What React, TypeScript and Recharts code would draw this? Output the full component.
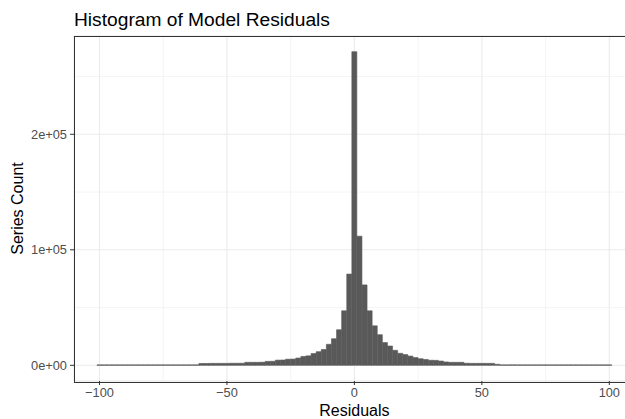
import React from "react";
import {
  BarChart,
  Bar,
  XAxis,
  YAxis,
  CartesianGrid,
} from "recharts";

// bin centres (binwidth 2) and counts
const binCentres = [
  -100, -98, -96, -94, -92, -90, -88, -86, -84, -82, -80, -78, -76, -74, -72, -70, -68, -66, -64, -62,
  -60, -58, -56, -54, -52, -50, -48, -46, -44, -42, -40, -38, -36, -34, -32, -30, -28, -26, -24, -22,
  -20, -18, -16, -14, -12, -10, -8, -6, -4, -2, 0, 2, 4, 6, 8, 10, 12, 14, 16, 18,
  20, 22, 24, 26, 28, 30, 32, 34, 36, 38, 40, 42, 44, 46, 48, 50, 52, 54, 56, 58,
  60, 62, 64, 66, 68, 70, 72, 74, 76, 78, 80, 82, 84, 86, 88, 90, 92, 94, 96, 98, 100,
];

const counts = [
  400, 400, 400, 400, 400, 400, 400, 400, 400, 400, 400, 400, 400, 400, 400, 400, 400, 400, 400, 400,
  1600, 1600, 1700, 1700, 1700, 1700, 1800, 1800, 1800, 2600, 2600, 2600, 2700, 3400, 3500, 4500, 4600, 5300, 5400, 6300,
  7700, 8200, 10200, 11800, 13700, 18200, 23000, 30800, 47200, 79000, 271500, 111800, 69600, 47200, 34200, 26500, 19700, 16700, 13000, 10400,
  9300, 8000, 6700, 5700, 5100, 4400, 4300, 3700, 2900, 2600, 2600, 2600, 1800, 1700, 1700, 1700, 1700, 1700, 900, 400,
  400, 400, 400, 400, 400, 400, 400, 400, 400, 400, 400, 400, 400, 400, 400, 400, 400, 400, 400, 400, 400,
];

const xTicks = [-100, -50, 0, 50, 100];
const xMinor = [-75, -25, 25, 75];
const yTicks = [0, 100000, 200000];
const yTickLabels = ["0e+00", "1e+05", "2e+05"];
const yMinor = [50000, 150000, 250000];
const xDomain = [-110, 110];
const yDomain = [-13575, 285075];

const data = binCentres.map((c, i) => ({ x: c, count: counts[i] }));

const font = '"Liberation Sans", Arial, Helvetica, sans-serif';

export default function App() {
  return (
    <div
      style={{
        position: "absolute",
        left: 0,
        top: 0,
        width: 625,
        height: 419,
        overflow: "hidden",
        background: "#fff",
        fontFamily: font,
      }}
    >
      <BarChart
        width={660}
        height={419}
        data={data}
        margin={{ top: 36, right: 25.2, left: 0, bottom: 0 }}
        barCategoryGap={0}
        barGap={0}
      >
        {/* minor grid, from hidden axes */}
        <CartesianGrid
          xAxisId="minor"
          yAxisId="minor"
          stroke="#EBEBEB"
          strokeWidth={0.55}
        />
        <CartesianGrid stroke="#EBEBEB" strokeWidth={1.1} />
        <XAxis
          xAxisId="minor"
          dataKey="x"
          type="number"
          domain={xDomain}
          ticks={xMinor}
          allowDataOverflow
          hide
        />
        <YAxis
          yAxisId="minor"
          type="number"
          domain={yDomain}
          ticks={yMinor}
          allowDataOverflow
          hide
        />
        <XAxis
          dataKey="x"
          type="number"
          domain={xDomain}
          ticks={xTicks}
          allowDataOverflow
          height={38}
          axisLine={false}
          tickSize={4}
          tickMargin={3}
          tickLine={{ stroke: "#333333", strokeWidth: 1 }}
          tick={{ fontSize: 12.8, fill: "#4D4D4D", fontFamily: font }}
          tickFormatter={(v) => (v < 0 ? `\u2212${Math.abs(v)}` : `${v}`)}
        />
        <YAxis
          type="number"
          domain={yDomain}
          ticks={yTicks}
          allowDataOverflow
          width={74}
          axisLine={false}
          tickSize={4}
          tickMargin={3}
          tickLine={{ stroke: "#333333", strokeWidth: 1 }}
          tick={{ fontSize: 12.8, fill: "#4D4D4D", fontFamily: font }}
          tickFormatter={(v) => yTickLabels[yTicks.indexOf(v)] ?? ""}
        />
        <Bar
          dataKey="count"
          fill="#595959"
          stroke="#595959"
          strokeWidth={0.6}
          isAnimationActive={false}
        />
      </BarChart>

      {/* panel border */}
      <div
        style={{
          position: "absolute",
          left: 73.5,
          top: 35.5,
          width: 561,
          height: 345,
          border: "1px solid #333333",
          pointerEvents: "none",
        }}
      />

      <svg
        width={625}
        height={419}
        style={{ position: "absolute", left: 0, top: 0, pointerEvents: "none" }}
      >
        <text x={74} y={26} fontSize={19.2} fill="#000" fontFamily={font}>
          Histogram of Model Residuals
        </text>
        <text
          x={354.4}
          y={416}
          fontSize={16}
          fill="#000"
          textAnchor="middle"
          fontFamily={font}
        >
          Residuals
        </text>
        <text
          transform="translate(22.5,208.5) rotate(-90)"
          fontSize={16}
          fill="#000"
          textAnchor="middle"
          fontFamily={font}
        >
          Series Count
        </text>
      </svg>
    </div>
  );
}
